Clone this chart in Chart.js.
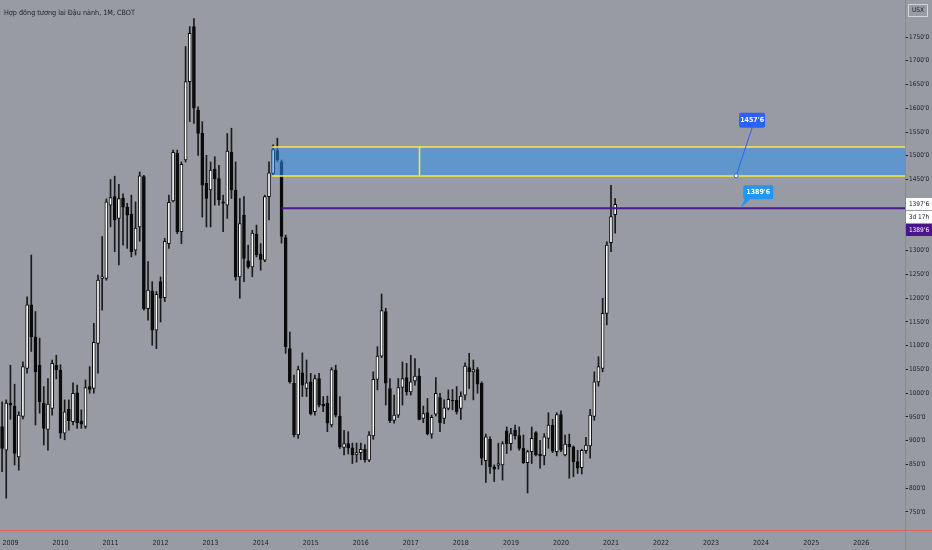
<!DOCTYPE html>
<html>
<head>
<meta charset="utf-8">
<script src="https://cdn.jsdelivr.net/npm/chart.js@4.4.0/dist/chart.umd.min.js"></script>
<style>
  html, body { margin: 0; padding: 0; background: #989ba3; }
  #wrap { position: relative; width: 932px; height: 550px; }
</style>
</head>
<body>
<div id="wrap"><canvas id="chart"></canvas></div>
<script>
// Soybean futures, monthly candles from Nov 2008 to Feb 2021 (US cents / bushel)
const opens = [930, 880,
  979, 973, 866, 951, 1052, 1186, 1119, 1059, 979, 924, 968, 1059,
  1049, 916, 966, 940, 1001, 942, 930, 1014, 1010, 1105, 1242, 1242,
  1396, 1414, 1368, 1411, 1392, 1377, 1301, 1350, 1456, 1178, 1215, 1133,
  1235, 1201, 1315, 1405, 1505, 1340, 1491, 1656, 1772, 1596, 1547, 1442,
  1428, 1472, 1452, 1403, 1396, 1508, 1428, 1245, 1375, 1279, 1266, 1335,
  1293, 1280, 1414, 1463, 1511, 1487, 1328, 1094, 1021, 912, 1043, 1010,
  1024, 961, 1031, 977, 979, 933, 1049, 952, 886, 894, 885, 870,
  875, 882, 859, 910, 1029, 1078, 1172, 1010, 943, 954, 1012, 1033,
  1003, 1026, 1036, 947, 959, 914, 956, 991, 947, 968, 985, 985,
  968, 996, 1054, 1045, 1050, 1021, 858, 903, 845, 848, 849, 921,
  894, 922, 911, 884, 854, 877, 917, 872, 868, 905, 933, 877,
  955, 870, 893, 887, 856, 843, 879, 889, 951, 1024, 1052, 1168,
  1317, 1376];
const highs = [982, 986,
  1059, 1019, 961, 1066, 1203, 1291, 1172, 1116, 1014, 1031, 1070, 1080,
  1060, 986, 986, 1022, 1017, 965, 1028, 1056, 1147, 1249, 1330, 1409,
  1450, 1457, 1440, 1420, 1400, 1417, 1403, 1466, 1459, 1277, 1235, 1214,
  1245, 1326, 1417, 1512, 1512, 1487, 1730, 1772, 1789, 1603, 1572, 1501,
  1487, 1498, 1480, 1417, 1547, 1558, 1487, 1410, 1414, 1312, 1343, 1354,
  1315, 1417, 1487, 1523, 1537, 1491, 1333, 1129, 1038, 1057, 1085, 1070,
  1042, 1038, 1042, 993, 994, 1054, 1059, 993, 922, 919, 895, 895,
  895, 892, 919, 1045, 1098, 1209, 1179, 1031, 996, 1031, 1066, 1063,
  1080, 1073, 1052, 973, 989, 954, 1033, 1000, 986, 1007, 1008, 1014,
  1003, 1064, 1084, 1070, 1054, 1024, 914, 908, 849, 895, 898, 929,
  926, 933, 929, 912, 880, 929, 919, 901, 915, 959, 945, 959,
  963, 912, 914, 889, 880, 882, 907, 966, 1045, 1077, 1200, 1319,
  1438, 1410];
const lows = [835, 779,
  945, 849, 838, 946, 1042, 1088, 933, 958, 891, 880, 954, 1030,
  905, 902, 922, 933, 926, 926, 926, 1000, 1000, 1042, 1175, 1238,
  1350, 1298, 1270, 1312, 1305, 1287, 1291, 1320, 1175, 1154, 1101, 1094,
  1150, 1193, 1305, 1403, 1336, 1315, 1487, 1572, 1568, 1501, 1371, 1350,
  1350, 1396, 1396, 1340, 1368, 1410, 1238, 1200, 1235, 1263, 1245, 1287,
  1259, 1277, 1365, 1460, 1488, 1316, 1084, 1021, 908, 905, 993, 993,
  954, 954, 971, 961, 919, 929, 950, 884, 870, 872, 852, 855,
  860, 855, 856, 903, 1007, 1075, 975, 938, 937, 949, 975, 996,
  996, 1017, 944, 938, 912, 905, 952, 919, 936, 965, 965, 956,
  945, 986, 1010, 986, 1000, 849, 812, 831, 814, 840, 817, 873,
  880, 903, 880, 852, 790, 852, 868, 842, 849, 884, 875, 868,
  877, 868, 821, 824, 831, 830, 873, 863, 943, 1015, 1045, 1144,
  1298, 1337];
const closes = [884, 979,
  975, 873, 954, 1056, 1186, 1119, 1045, 982, 926, 977, 1063, 1049,
  916, 961, 942, 1000, 938, 935, 1012, 1008, 1107, 1238, 1245, 1403,
  1412, 1365, 1410, 1392, 1375, 1298, 1348, 1458, 1178, 1217, 1133, 1208,
  1200, 1320, 1402, 1507, 1340, 1482, 1656, 1758, 1600, 1547, 1438, 1410,
  1470, 1452, 1407, 1400, 1510, 1428, 1245, 1357, 1284, 1266, 1337, 1291,
  1282, 1414, 1464, 1513, 1492, 1330, 1098, 1024, 912, 1050, 1017, 1022,
  957, 1031, 975, 973, 937, 1050, 954, 887, 894, 885, 870, 875,
  882, 860, 912, 1029, 1078, 1174, 1021, 942, 954, 1012, 1031, 1003,
  1024, 1036, 945, 957, 915, 949, 1000, 938, 969, 987, 984, 961,
  994, 1057, 1045, 1050, 1019, 863, 908, 845, 840, 852, 894, 894,
  915, 910, 884, 854, 877, 905, 870, 868, 908, 933, 878, 955,
  880, 893, 887, 856, 842, 880, 891, 954, 1024, 1056, 1168, 1312,
  1372, 1397.75];

// right axis tick values and year labels on the time axis
const priceTicks = [750, 800, 850, 900, 950, 1000, 1050, 1100, 1150, 1200, 1250, 1300,
  1350, 1400, 1450, 1500, 1550, 1600, 1650, 1700, 1750];
const yearLabels = ['2009', '2010', '2011', '2012', '2013', '2014', '2015', '2016', '2017',
  '2018', '2019', '2020', '2021', '2022', '2023', '2024', '2025', '2026'];

// drawings on the chart
const zoneTop = 1519;
const zoneBottom = 1457.75;
const zoneStart = '2014-04';
const zoneSplit = '2017-03';
const levelPrice = 1389.75;
const levelStart = '2014-06';
const lastPrice = 1397.75;

// month categories, Nov 2008 .. Nov 2026 (empty months to the right)
const months = [];
for (let k = 0; k < 217; k++) {
  const d = new Date(2008, 10 + k, 1);
  months.push(d.getFullYear() + '-' + String(d.getMonth() + 1).padStart(2, '0'));
}

const bodies = opens.map((o, i) => [o, closes[i]]);
const wicks = lows.map((l, i) => [l, highs[i]]);
const bodyColors = opens.map((o, i) => closes[i] >= o ? '#ffffff' : '#0b0b0b');

const AXIS_FONT = "'DejaVu Sans Condensed', 'DejaVu Sans', sans-serif";

function box(ctx, x, y, w, h, fill, stroke) {
  ctx.fillStyle = fill;
  ctx.fillRect(x, y, w, h);
  if (stroke) {
    ctx.strokeStyle = stroke;
    ctx.lineWidth = 1;
    ctx.strokeRect(x + 0.5, y + 0.5, w - 1, h - 1);
  }
}

const drawings = {
  id: 'drawings',
  afterDatasetsDraw(chart) {
    const { ctx, chartArea: a, scales: { x, y } } = chart;
    ctx.save();

    // blue zone with yellow edges
    const zx = x.getPixelForValue(months.indexOf(zoneStart)) - 1;
    const zt = Math.round(y.getPixelForValue(zoneTop));
    const zb = Math.round(y.getPixelForValue(zoneBottom));
    ctx.fillStyle = 'rgba(42,146,242,0.52)';
    ctx.fillRect(zx, zt, a.right - zx, zb - zt);
    ctx.strokeStyle = '#ffe83a';
    ctx.lineWidth = 1.5;
    ctx.beginPath();
    ctx.moveTo(zx, zt); ctx.lineTo(a.right, zt);
    ctx.moveTo(zx, zb); ctx.lineTo(a.right, zb);
    const sx = Math.round(x.getPixelForValue(months.indexOf(zoneSplit))) + 0.5;
    ctx.moveTo(sx, zt); ctx.lineTo(sx, zb);
    ctx.stroke();

    // purple level line
    const ly = y.getPixelForValue(levelPrice);
    ctx.strokeStyle = '#4a1a8e';
    ctx.lineWidth = 2;
    ctx.beginPath();
    ctx.moveTo(x.getPixelForValue(months.indexOf(levelStart)), ly);
    ctx.lineTo(a.right, ly);
    ctx.stroke();

    // price callout for the zone bottom
    const p1x = x.getPixelForValue(months.indexOf('2023-07'));
    const p1y = y.getPixelForValue(zoneBottom);
    ctx.strokeStyle = '#2962ff';
    ctx.lineWidth = 1;
    ctx.beginPath();
    ctx.moveTo(p1x, p1y); ctx.lineTo(p1x + 16, p1y - 48);
    ctx.stroke();
    ctx.fillStyle = '#2962ff';
    ctx.beginPath(); ctx.roundRect(p1x + 3, p1y - 63, 26, 15, 2); ctx.fill();
    ctx.beginPath(); ctx.arc(p1x, p1y, 2, 0, Math.PI * 2);
    ctx.fillStyle = '#ffffff'; ctx.fill();
    ctx.strokeStyle = '#2962ff'; ctx.stroke();
    ctx.fillStyle = '#ffffff';
    ctx.font = "bold 7px " + AXIS_FONT;
    ctx.textAlign = 'center';
    ctx.textBaseline = 'middle';
    ctx.fillText("1457'6", p1x + 16, p1y - 55.5);

    // price callout for the level line
    const p2x = x.getPixelForValue(months.indexOf('2023-08'));
    ctx.fillStyle = '#2196f3';
    ctx.beginPath(); ctx.roundRect(p2x + 3, ly - 23, 30, 14, 2); ctx.fill();
    ctx.beginPath();
    ctx.moveTo(p2x + 5, ly - 10); ctx.lineTo(p2x, ly); ctx.lineTo(p2x + 11, ly - 10);
    ctx.closePath(); ctx.fill();
    ctx.fillStyle = '#ffffff';
    ctx.fillText("1389'6", p2x + 18, ly - 15.5);

    ctx.restore();
  },
  afterDraw(chart) {
    const { ctx, chartArea: a, scales: { y } } = chart;
    const W = chart.width, H = chart.height;
    ctx.save();

    // title
    ctx.fillStyle = '#1e1f24';
    ctx.font = "7.2px " + AXIS_FONT;
    ctx.textAlign = 'left';
    ctx.textBaseline = 'middle';
    ctx.fillText('Hợp đồng tương lai Đậu nành, 1M, CBOT', 4, 13);

    // frame lines
    ctx.strokeStyle = 'rgba(236,86,96,0.75)';
    ctx.lineWidth = 1;
    ctx.beginPath();
    ctx.moveTo(Math.round(a.right) + 0.5, 0); ctx.lineTo(Math.round(a.right) + 0.5, H);
    ctx.moveTo(0, Math.round(a.bottom) + 0.5); ctx.lineTo(W, Math.round(a.bottom) + 0.5);
    ctx.stroke();

    // currency box
    const bx = a.right + 3;
    box(ctx, bx, 4, 20, 13, '#989ba3', '#d4d6dc');
    ctx.fillStyle = '#1e1f24';
    ctx.font = "6.5px " + AXIS_FONT;
    ctx.textAlign = 'center';
    ctx.fillText('USX', bx + 10, 10.5);

    // last price, countdown, level label
    const lp = Math.round(y.getPixelForValue(lastPrice));
    const ax = Math.round(a.right) + 1;
    box(ctx, ax, lp - 6, W - ax, 12, '#ffffff');
    box(ctx, ax, lp + 7, W - ax, 12, '#ffffff');
    box(ctx, ax, lp + 20, W - ax, 12, '#4a148c');
    ctx.font = "6.5px " + AXIS_FONT;
    ctx.fillStyle = '#131722';
    ctx.fillText("1397'6", ax + 13, lp);
    ctx.fillText('3d 17h', ax + 13, lp + 13);
    ctx.fillStyle = '#ffffff';
    ctx.fillText("1389'6", ax + 13, lp + 26);
    ctx.restore();
  }
};

new Chart(document.getElementById('chart'), {
  type: 'bar',
  data: {
    labels: months,
    datasets: [
      {
        label: 'body',
        data: bodies,
        backgroundColor: bodyColors,
        borderColor: '#0b0b0b',
        borderWidth: 1,
        borderSkipped: false,
        barThickness: 3,
        order: 0
      },
      {
        label: 'wick',
        data: wicks,
        backgroundColor: '#1a1a1a',
        barThickness: 1,
        order: 1
      }
    ]
  },
  options: {
    responsive: true,
    maintainAspectRatio: false,
    animation: false,
    grouped: false,
    layout: { padding: 0 },
    plugins: { legend: { display: false }, tooltip: { enabled: false } },
    scales: {
      x: {
        grid: { display: false },
        border: { display: false },
        ticks: {
          autoSkip: false,
          maxRotation: 0,
          minRotation: 0,
          padding: 1,
          color: '#1e1f24',
          font: { family: AXIS_FONT, size: 7 },
          callback: (v, i) => {
            const m = months[i];
            return m.endsWith('-01') && yearLabels.includes(m.slice(0, 4)) ? m.slice(0, 4) : null;
          }
        },
        afterFit: s => { s.height = 20; s.paddingLeft = 0; s.paddingRight = 0; }
      },
      y: {
        position: 'right',
        min: 712,
        max: 1828,
        grid: { display: true, drawOnChartArea: false, tickLength: 3, color: '#1e1f24' },
        border: { display: false },
        afterBuildTicks: s => { s.ticks = priceTicks.map(v => ({ value: v })); },
        ticks: {
          padding: 1,
          color: '#1e1f24',
          font: { family: AXIS_FONT, size: 6.5 },
          callback: v => v + "'0"
        },
        afterFit: s => { s.width = 27; s.paddingTop = 0; s.paddingBottom = 0; }
      }
    }
  },
  plugins: [drawings]
});
</script>
</body>
</html>
